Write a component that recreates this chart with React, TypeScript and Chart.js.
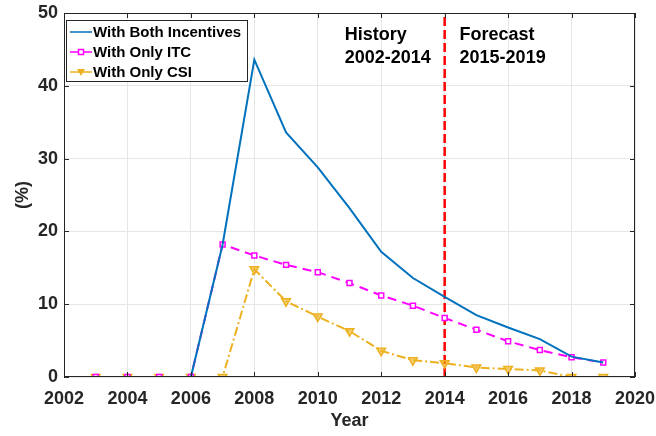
import React, { useEffect, useRef } from "react";
import { Chart, registerables } from "chart.js";

Chart.register(...registerables);

const years = [2003, 2004, 2005, 2006, 2007, 2008, 2009, 2010, 2011, 2012, 2013, 2014, 2015, 2016, 2017, 2018, 2019];
const bothIncentives = [0, 0, 0, 0, 18.2, 43.6, 33.6, 28.8, 23.2, 17.2, 13.6, 11.0, 8.5, 6.8, 5.2, 2.8, 2.0];
const onlyITC = [0, 0, 0, 0, 18.2, 16.7, 15.4, 14.4, 12.9, 11.2, 9.8, 8.1, 6.5, 4.9, 3.7, 2.7, 2.0];
const onlyCSI = [0, 0, 0, 0, 0, 14.8, 10.4, 8.3, 6.3, 3.6, 2.3, 1.9, 1.3, 1.1, 0.9, 0, 0];
const splitYear = 2014;
const yRange = [0, 50];
const seriesLabels = ["With Both Incentives", "With Only ITC", "With Only CSI"];
const annotations = [
  { x: 2010.85, lines: ["History", "2002-2014"] },
  { x: 2014.47, lines: ["Forecast", "2015-2019"] },
];

const BLUE = "#0072BD";
const MAGENTA = "#FF00FF";
const YELLOW = "#EDB120";
const FONT = "'Liberation Sans', Arial, sans-serif";

export default function App() {
  const ref = useRef<HTMLCanvasElement>(null);
  useEffect(() => {
    const canvas = ref.current!;
    const toPts = (arr: number[]) => arr.map((v, i) => ({ x: years[i], y: v }));

    const frameAndExtras = {
      id: "frameAndExtras",
      afterDatasetsDraw(chart: any) {
        const { ctx, chartArea: a, scales } = chart;
        const xs = scales.x;
        const ys = scales.y;
        ctx.save();
        ctx.strokeStyle = "#262626";
        ctx.lineWidth = 1;
        ctx.strokeRect(a.left + 0.5, a.top + 0.5, a.right - a.left - 1, a.bottom - a.top - 1);
        ctx.beginPath();
        for (let v = 2002; v <= 2020; v += 2) {
          const px = Math.round(xs.getPixelForValue(v)) + 0.5;
          ctx.moveTo(px, a.bottom);
          ctx.lineTo(px, a.bottom - 5);
          ctx.moveTo(px, a.top);
          ctx.lineTo(px, a.top + 5);
        }
        for (let v = 0; v <= 50; v += 10) {
          const py = Math.round(ys.getPixelForValue(v)) + 0.5;
          ctx.moveTo(a.left, py);
          ctx.lineTo(a.left + 5, py);
          ctx.moveTo(a.right, py);
          ctx.lineTo(a.right - 5, py);
        }
        ctx.stroke();

        ctx.fillStyle = "#000";
        ctx.font = `bold 18px ${FONT}`;
        ctx.textBaseline = "middle";
        ctx.textAlign = "left";
        for (const an of annotations) {
          const px = xs.getPixelForValue(an.x);
          an.lines.forEach((t, i) => ctx.fillText(t, px, a.top + 22 + i * 23));
        }

        const lx = a.left + 2;
        const ly = a.top + 7;
        const lw = 181;
        const lh = 61;
        ctx.fillStyle = "#fff";
        ctx.fillRect(lx, ly, lw, lh);
        ctx.strokeStyle = "#262626";
        ctx.lineWidth = 1;
        ctx.strokeRect(lx + 0.5, ly + 0.5, lw, lh);
        ctx.font = `bold 15px ${FONT}`;
        const colors = [BLUE, MAGENTA, YELLOW];
        seriesLabels.forEach((lab, i) => {
          const cy = ly + 12 + i * 20;
          ctx.strokeStyle = colors[i];
          ctx.lineWidth = 1.5;
          ctx.setLineDash([]);
          ctx.beginPath();
          ctx.moveTo(lx + 4, cy);
          ctx.lineTo(lx + 26, cy);
          ctx.stroke();
          if (i === 1) {
            ctx.fillStyle = "#fff";
            ctx.fillRect(lx + 12, cy - 3, 6, 6);
            ctx.strokeRect(lx + 12.5, cy - 2.5, 5, 5);
          } else if (i === 2) {
            ctx.fillStyle = YELLOW;
            ctx.beginPath();
            ctx.moveTo(lx + 11, cy - 3);
            ctx.lineTo(lx + 19, cy - 3);
            ctx.lineTo(lx + 15, cy + 4);
            ctx.closePath();
            ctx.fill();
          }
          ctx.fillStyle = "#000";
          ctx.fillText(lab, lx + 27, cy + 1);
        });
        ctx.restore();
      },
    };

    const chart = new Chart(canvas, {
      type: "line",
      data: {
        datasets: [
          {
            label: seriesLabels[0],
            data: toPts(bothIncentives),
            borderColor: BLUE,
            backgroundColor: BLUE,
            borderWidth: 2,
            pointRadius: 0,
            tension: 0,
          },
          {
            label: seriesLabels[1],
            data: toPts(onlyITC),
            borderColor: MAGENTA,
            backgroundColor: "#fff",
            borderWidth: 2,
            borderDash: [9, 6],
            pointStyle: "rect",
            pointRadius: 3.5,
            pointBorderWidth: 1.5,
            tension: 0,
          },
          {
            label: seriesLabels[2],
            data: toPts(onlyCSI),
            borderColor: YELLOW,
            backgroundColor: "rgba(237,177,32,0.6)",
            borderWidth: 2,
            borderDash: [9, 3, 2, 3],
            pointStyle: "triangle",
            rotation: 180,
            pointRadius: 5,
            pointBorderWidth: 1.5,
            tension: 0,
          },
          {
            label: "split",
            data: [
              { x: splitYear, y: yRange[0] },
              { x: splitYear, y: yRange[1] },
            ],
            borderColor: "#FF0000",
            borderWidth: 2.5,
            borderDash: [9, 4],
            pointRadius: 0,
            tension: 0,
          },
        ],
      },
      options: {
        animation: false,
        responsive: false,
        maintainAspectRatio: false,
        layout: { padding: { top: 13, right: 21, left: 0, bottom: 0 } },
        plugins: { legend: { display: false }, tooltip: { enabled: false } },
        scales: {
          x: {
            type: "linear",
            min: 2002,
            max: 2020,
            border: { display: false },
            ticks: {
              stepSize: 2,
              color: "#262626",
              font: { family: FONT, size: 18, weight: "bold" },
              maxRotation: 0,
              padding: 11,
              callback: (v: any) => String(v),
            },
            grid: { color: "#e6e6e6", drawTicks: false },
            title: {
              display: true,
              text: "Year",
              color: "#262626",
              font: { family: FONT, size: 18, weight: "bold" },
              padding: { top: 0 },
            },
            afterFit: (s: any) => {
              s.height = 59;
              s.paddingLeft = 0;
              s.paddingRight = 0;
            },
          },
          y: {
            min: yRange[0],
            max: yRange[1],
            border: { display: false },
            ticks: {
              stepSize: 10,
              color: "#262626",
              font: { family: FONT, size: 18, weight: "bold" },
              padding: 6,
            },
            grid: { color: "#e6e6e6", drawTicks: false },
            title: {
              display: true,
              text: "(%)",
              color: "#262626",
              font: { family: FONT, size: 18, weight: "bold" },
              padding: { top: 12, bottom: 0 },
            },
            afterFit: (s: any) => {
              s.width = 64;
              s.paddingTop = 0;
              s.paddingBottom = 0;
            },
          },
        },
      },
      plugins: [frameAndExtras],
    } as any);
    return () => chart.destroy();
  }, []);
  return (
    <div style={{ position: "fixed", left: 0, top: 0, width: 656, height: 436, background: "#fff" }}>
      <canvas ref={ref} width={656} height={436} style={{ width: 656, height: 436, display: "block" }} />
    </div>
  );
}
